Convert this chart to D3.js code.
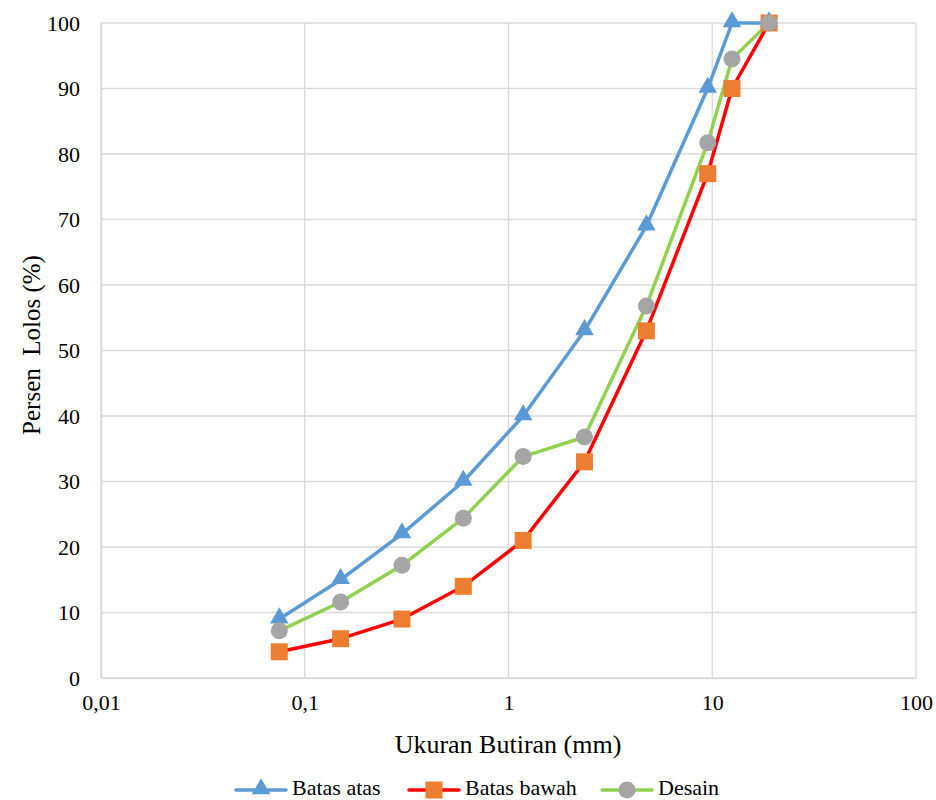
<!DOCTYPE html>
<html><head><meta charset="utf-8">
<script src="https://cdn.jsdelivr.net/npm/d3@7"></script>
<style>body{margin:0;background:#fff}svg{display:block}</style>
</head><body><svg id="c" width="936" height="800"></svg>
<script>
const sizes = [0.075, 0.15, 0.3, 0.6, 1.18, 2.36, 4.75, 9.5, 12.5, 19];
const batasAtas = [9, 15, 22, 30, 40, 53, 69, 90, 100, 100];
const batasBawah = [4, 6, 9, 14, 21, 33, 53, 77, 90, 100];
const desain = [7.2, 11.6, 17.2, 24.4, 33.8, 36.8, 56.8, 81.7, 94.5, 100];
const xTicks = [0.01, 0.1, 1, 10, 100];
const xTickLabels = ["0,01", "0,1", "1", "10", "100"];
const yTicks = [0, 10, 20, 30, 40, 50, 60, 70, 80, 90, 100];
const seriesNames = ["Batas atas", "Batas bawah", "Desain"];

const FONT = "Liberation Serif, Times New Roman, DejaVu Serif, serif";
const svg = d3.select("#c");
const L = 101, R = 916, T = 23, B = 678;
const x = d3.scaleLog().domain([0.01, 100]).range([L, R]);
const y = d3.scaleLinear().domain([0, 100]).range([B, T]);
const grid = "#d9d9d9";

svg.append("g").selectAll("line").data(yTicks).join("line")
  .attr("x1", L).attr("x2", R).attr("y1", d => y(d)).attr("y2", d => y(d))
  .attr("stroke", grid).attr("stroke-width", 1.3);
svg.append("g").selectAll("line").data(xTicks).join("line")
  .attr("y1", T).attr("y2", B).attr("x1", d => x(d)).attr("x2", d => x(d))
  .attr("stroke", grid).attr("stroke-width", 1.3);

const yAx = svg.append("g").attr("transform", `translate(${L},0)`)
  .call(d3.axisLeft(y).tickValues(yTicks).tickSize(0).tickPadding(21));
yAx.attr("font-family", FONT).attr("font-size", 22);
yAx.selectAll("text").attr("fill", "#000");
yAx.select(".domain").attr("stroke", grid).attr("stroke-width", 1.3);

const xAx = svg.append("g").attr("transform", `translate(0,${B})`)
  .call(d3.axisBottom(x).tickValues(xTicks).tickFormat((d, i) => xTickLabels[i]).tickSize(0).tickPadding(16));
xAx.attr("font-family", FONT).attr("font-size", 22);
xAx.selectAll("text").attr("fill", "#000");
xAx.select(".domain").attr("stroke", grid).attr("stroke-width", 1.3);

svg.append("text").attr("x", 508).attr("y", 753).attr("text-anchor", "middle")
  .attr("font-family", FONT).attr("font-size", 26).text("Ukuran Butiran (mm)");
svg.append("text").attr("transform", `translate(40,345) rotate(-90)`).attr("text-anchor", "middle")
  .attr("font-family", FONT).attr("font-size", 25).style("white-space", "pre").text("Persen  Lolos (%)");

const line = d3.line().x((d, i) => x(sizes[i])).y(d => y(d));

function drawMarker(g, type, cx, cy) {
  if (type === "tri") {
    g.append("path").attr("d", d3.symbol().type(d3.symbolTriangle).size(150)()).attr("transform", `translate(${cx},${cy - 1})`).attr("fill", "#5B9BD5");
  } else if (type === "sq") {
    g.append("rect").attr("x", cx - 8.5).attr("y", cy - 8.5).attr("width", 17).attr("height", 17).attr("fill", "#ED7D31");
  } else {
    g.append("circle").attr("cx", cx).attr("cy", cy).attr("r", 8.5).attr("fill", "#A5A5A5");
  }
}

const series = [
  {vals: batasAtas, color: "#5B9BD5", m: "tri"},
  {vals: batasBawah, color: "#FF0000", m: "sq"},
  {vals: desain, color: "#92D050", m: "circ"}
];
series.forEach(s => {
  svg.append("path").datum(s.vals).attr("d", line).attr("fill", "none")
    .attr("stroke", s.color).attr("stroke-width", 3.5).attr("stroke-linejoin", "round").attr("stroke-linecap", "round");
});
series.forEach(s => {
  const g = svg.append("g");
  s.vals.forEach((v, i) => drawMarker(g, s.m, x(sizes[i]), y(v)));
});

const legX = [236, 409, 602];
series.forEach((s, i) => {
  const g = svg.append("g");
  g.append("line").attr("x1", legX[i]).attr("x2", legX[i] + 50).attr("y1", 790).attr("y2", 790)
    .attr("stroke", s.color).attr("stroke-width", 3.5).attr("stroke-linecap", "round");
  drawMarker(g, s.m, legX[i] + 25, 790);
  g.append("text").attr("x", legX[i] + 56).attr("y", 795).attr("font-family", FONT).attr("font-size", 22)
    .text(seriesNames[i]);
});
</script></body></html>
